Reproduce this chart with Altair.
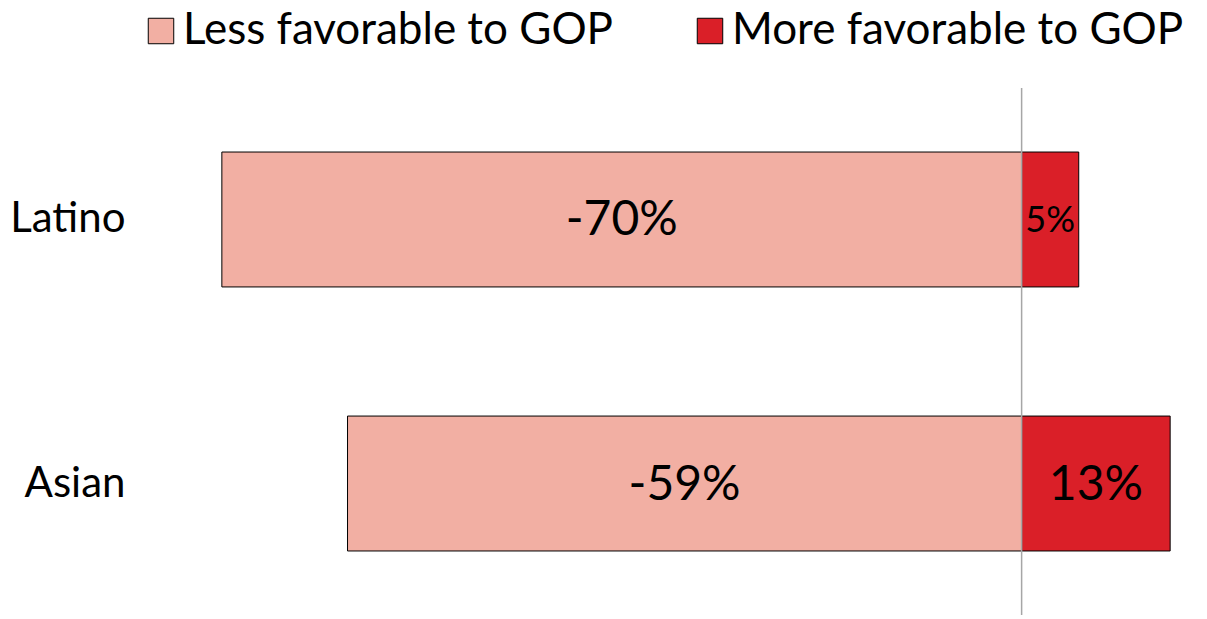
import altair as alt
import pandas as pd

categories = ["Latino", "Asian"]
less_favorable = [-70, -59]
more_favorable = [5, 13]
series_names = ["Less favorable to GOP", "More favorable to GOP"]
colors = ["#F2AFA3", "#DA1F28"]

rows = []
for c, l, m in zip(categories, less_favorable, more_favorable):
    rows.append({"category": c, "series": series_names[0], "value": l})
    rows.append({"category": c, "series": series_names[1], "value": m})
df = pd.DataFrame(rows)

FONT = "Lato"

xscale = alt.Scale(domain=[-72, 15], nice=False, zero=False)
yscale = alt.Scale(domain=categories, paddingInner=0.489, paddingOuter=0.2425)
yaxis = alt.Axis(title=None, ticks=False, domain=False, labelFontSize=42,
                 labelFont=FONT, labelColor="black", labelPadding=74,
                 labelFontWeight="normal", grid=False)

base = alt.Chart(df)

bars = base.mark_bar(stroke="black", strokeWidth=1).encode(
    y=alt.Y("category:N", scale=yscale, sort=categories, axis=yaxis),
    x=alt.X("value:Q", scale=xscale, stack=None, axis=None),
    x2=alt.X2(datum=0),
    color=alt.Color("series:N",
                    scale=alt.Scale(domain=series_names, range=colors),
                    legend=alt.Legend(title=None, orient="none", direction="horizontal",
                                      legendX=-60, legendY=-79,
                                      symbolType="square", symbolSize=650,
                                      symbolStrokeColor="black", symbolStrokeWidth=1,
                                      labelFontSize=44, labelFont=FONT, labelColor="black",
                                      labelLimit=0,
                                      columnPadding=74, symbolOffset=0, labelOffset=0)),
)

labels = base.transform_calculate(
    mid="datum.value / 2",
    txt="toString(datum.value) + '%'"
).mark_text(font=FONT, color="black", baseline="middle", align="center", dy=2).encode(
    y=alt.Y("category:N", scale=yscale, sort=categories, axis=yaxis),
    x=alt.X("mid:Q", scale=xscale, axis=None),
    text="txt:N",
    size=alt.condition("abs(datum.value) < 8", alt.value(36), alt.value(48)),
)

zero_line = alt.Chart(pd.DataFrame({"z": [0]})).mark_rule(color="#A6A6A6", strokeWidth=1.5).encode(
    x=alt.X("z:Q", scale=xscale, axis=None)
)

chart = alt.layer(bars, zero_line, labels).properties(
    width=994, height=527,
    autosize=alt.AutoSizeParams(type="none"),
    padding={"left": 191, "top": 80, "right": 6, "bottom": 0},
).configure(font=FONT).configure_view(strokeWidth=0, stroke=None)

chart.save("out.html", embed_options={"renderer": "svg", "actions": False})
